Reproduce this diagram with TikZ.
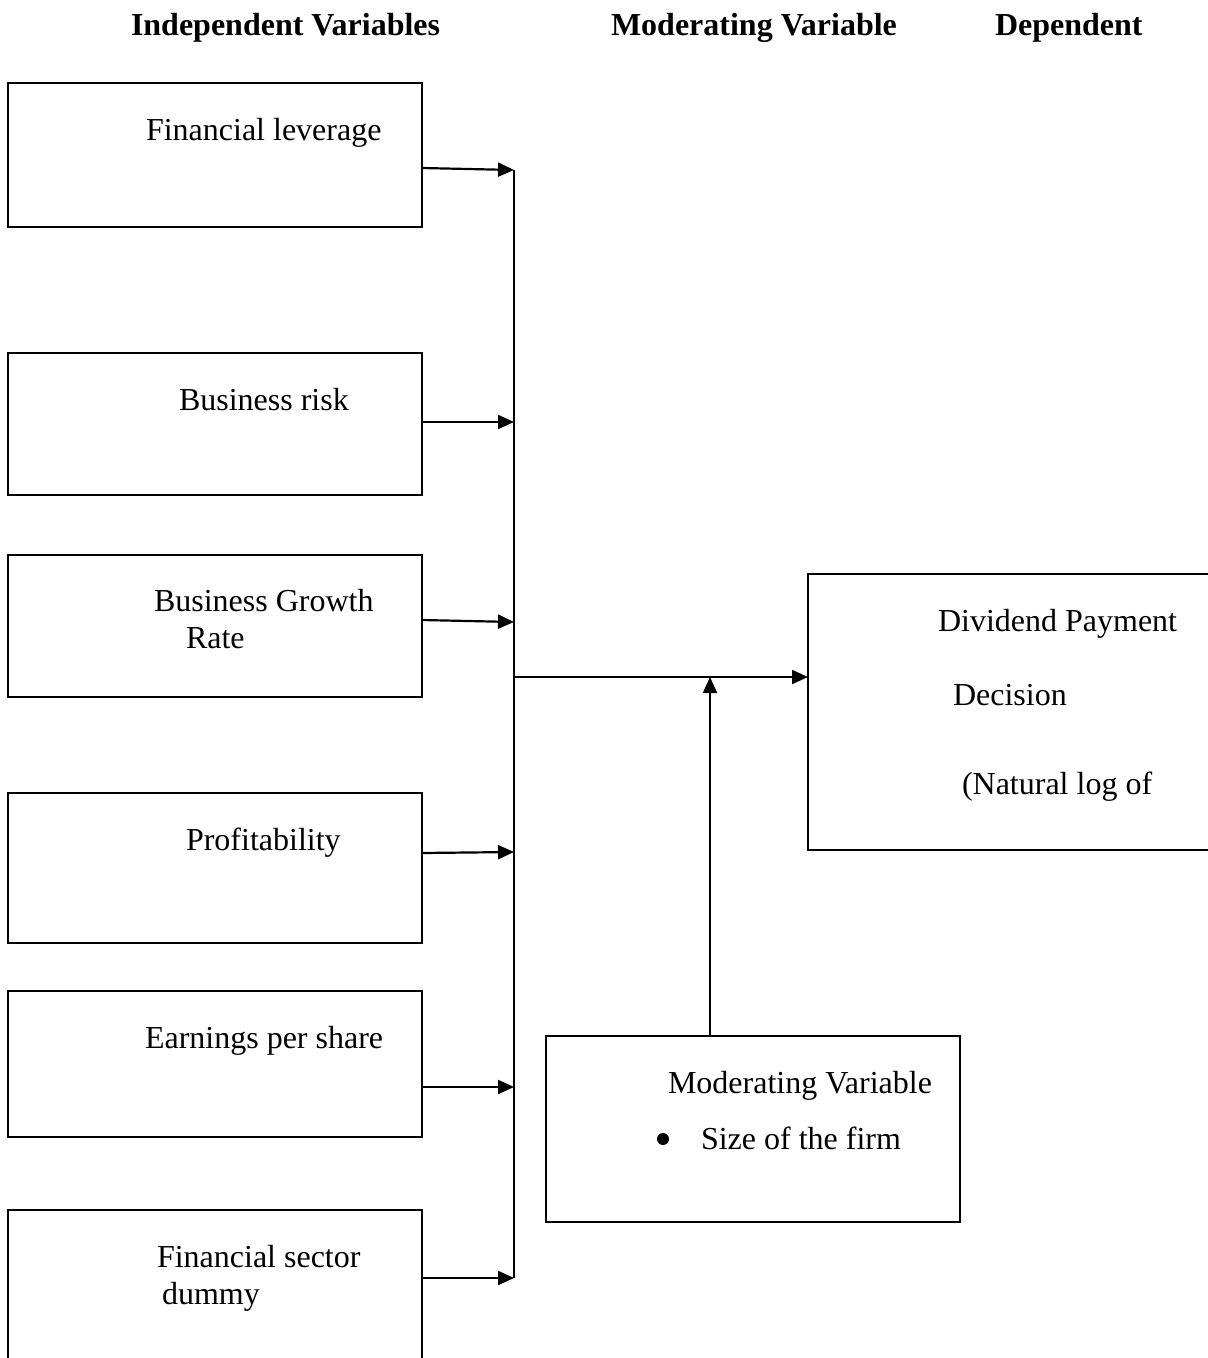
\documentclass[tikz,border=0pt]{standalone}
\usepackage{fontspec}
\setmainfont{Liberation Serif}
\usetikzlibrary{arrows.meta}
\begin{document}
\begin{tikzpicture}[x=1pt,y=-1pt,
  box/.style={draw, line width=2pt, inner sep=0pt, outer sep=0pt},
  txt/.style={anchor=base west, inner sep=0pt, outer sep=0pt, font=\fontsize{32}{37}\selectfont},
  head/.style={txt, font=\fontsize{32}{37}\selectfont\bfseries},
  conn/.style={line width=2pt},
  arr/.style={line width=2.2pt, -{Triangle[length=16pt,width=14pt]}}]
\useasboundingbox (0,0) rectangle (1208,1358);
\clip (0,0) rectangle (1208,1358);
% headings
\node[head] (h1) at (131,35) {Independent Variables};
\node[head] (h2) at (611,35) {Moderating Variable};
\node[head] (h3) at (995,35) {Dependent};
% left boxes
\node[box, minimum width=414pt, minimum height=144pt] (b1) at (215,155) {};
\node[box, minimum width=414pt, minimum height=142pt] (b2) at (215,424) {};
\node[box, minimum width=414pt, minimum height=142pt] (b3) at (215,626) {};
\node[box, minimum width=414pt, minimum height=150pt] (b4) at (215,868) {};
\node[box, minimum width=414pt, minimum height=146pt] (b5) at (215,1064) {};
\node[box, minimum width=414pt, minimum height=200pt] (b6) at (215,1310) {};
% texts
\node[txt] (t1) at (146,140) {Financial leverage};
\node[txt] (t2) at (179,410) {Business risk};
\node[txt] (t3a) at (154,611) {Business Growth};
\node[txt] (t3b) at (186,648) {Rate};
\node[txt] (t4) at (186,850) {Profitability};
\node[txt] (t5) at (145,1048) {Earnings per share};
\node[txt] (t6a) at (157,1267) {Financial sector};
\node[txt] (t6b) at (162,1304) {dummy};
% dependent box
\node[box, minimum width=440pt, minimum height=276pt] (dv) at (1028,712) {};
\node[txt] (d1) at (938,631) {Dividend Payment};
\node[txt] (d2) at (953,705) {Decision};
\node[txt] (d3) at (962,794) {(Natural log of};
% moderating box
\node[box, minimum width=414pt, minimum height=186pt] (mv) at (753,1129) {};
\node[txt] (m1) at (668,1093) {Moderating Variable};
\fill (663,1139) circle (6pt);
\node[txt] (m2) at (701,1149) {Size of the firm};
% trunk
\coordinate (c1) at (514,170);
\coordinate (c2) at (514,422);
\coordinate (c3) at (514,622);
\coordinate (c4) at (514,852);
\coordinate (c5) at (514,1087);
\coordinate (c6) at (514,1278);
\coordinate (cm) at (514,677);
\coordinate (mj) at (710,677);
\draw[conn] (c1) -- (c6);
\draw[arr] (b1.east |- 0,168) -- (c1);
\draw[arr] (b2.east |- c2) -- (c2);
\draw[arr] (b3.east |- 0,620) -- (c3);
\draw[arr] (b4.east |- 0,853) -- (c4);
\draw[arr] (b5.east |- c5) -- (c5);
\draw[arr] (b6.east |- c6) -- (c6);
\draw[arr] (cm) -- (dv.west |- cm);
\draw[arr] (mv.north -| mj) -- (mj);
\end{tikzpicture}
\end{document}
